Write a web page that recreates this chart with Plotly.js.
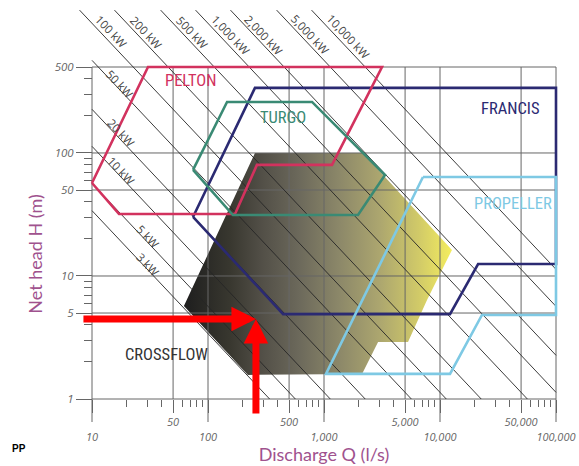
<!DOCTYPE html>
<html><head><meta charset="utf-8">
<script src="https://cdn.plot.ly/plotly-3.0.1.min.js"></script>
<style>html,body{margin:0;padding:0;background:#fff}#chart{width:579px;height:466px}</style>
</head><body><div id="chart"></div>
<script>
// ---------------- data ----------------
// turbine application envelopes: discharge Q (l/s), net head H (m)
const peltonQ = [10, 30.4, 3162, 1172, 264, 171, 17.1, 10];
const peltonH = [57, 500, 500, 80, 80, 31.9, 32, 57];
const turgoQ = [74.3, 146, 789, 3357, 1964, 164, 74.3];
const turgoH = [72.8, 260, 260, 66.2, 31.3, 31.3, 72.8];
const francisQ = [74.3, 254, 100000, 100000, 21300, 12200, 444, 74.3];
const francisH = [30.2, 338, 338, 12.5, 12.5, 4.9, 4.9, 30.2];
const propellerQ = [7130, 100000, 100000, 23000, 12200, 1040, 7130];
const propellerH = [63.8, 63.8, 4.82, 4.82, 1.6, 1.6, 63.8];
const crossflowQ = [254, 2168, 12680, 7730, 5300, 2925, 2128, 221, 62, 254];
const crossflowH = [100, 100, 16.3, 6.38, 2.91, 2.91, 1.6, 1.57, 5.7, 100];

// iso-power lines
const powerKW = [3, 5, 10, 20, 50, 100, 200, 500, 1000, 2000, 5000, 10000];
const powerText = ['3 kW', '5 kW', '10 kW', '20 kW', '50 kW', '100 kW', '200 kW', '500 kW',
                   '1,000 kW', '2,000 kW', '5,000 kW', '10,000 kW'];
const powerLabelQ = [30.4, 30.4, 17.8, 17.8, 17.1, 14.6, 29.2, 72.8, 155, 298, 757, 1611];
const powerLabelH = [12.5, 21.1, 72.7, 148, 364, 963, 945, 945, 911, 911, 911, 877];
const C_KW = 0.00883;        // kW per (l/s * m): rho*g*eta, eta ~ 0.9
const LINE_TOP_H = 1450;     // upper power lines run up to this head

// turbine names
const turbineNames = ['PELTON', 'TURGO', 'FRANCIS', 'PROPELLER', 'CROSSFLOW'];
const turbineLabelQ = [70, 444, 40100, 42600, 43.5];
const turbineLabelH = [385, 196, 232, 38.5, 2.28];
const turbineColors = ['#d2325e', '#3a8a74', '#2b2a72', '#7ec9e4', '#333333'];

// axes ticks / grid
const gridQ = [10, 50, 100, 500, 1000, 5000, 10000, 50000, 100000];
const gridH = [1, 5, 10, 50, 100, 500];
const xTickText = ['<br>10', '50', '<br>100', '500', '<br>1,000', '5,000', '<br>10,000', '50,000', '<br>100,000'];
const yTickText = ['1', '5', '10', '50', '100', '500'];
const minorQ = [20, 30, 40, 60, 70, 80, 90, 200, 300, 400, 600, 700, 800, 900,
                2000, 3000, 4000, 6000, 7000, 8000, 9000, 20000, 30000, 40000, 60000, 70000, 80000, 90000];
const minorH = [2, 3, 4, 6, 7, 8, 9, 20, 30, 40, 60, 70, 80, 90, 200, 300, 400];

// operating point marked by the red arrows
const targetQ = 259, targetH = 4.47;

// ---------------- geometry ----------------
const W = 579, HT = 466;
const M = {l: 60, r: 20, t: 5, b: 20};
const plotW = W - M.l - M.r, plotH = HT - M.t - M.b;
const FR = {left: 92, right: 556, top: 67, bottom: 399};   // frame of the main axes (px)
const fx = px => (px - M.l) / plotW;
const fy = py => (HT - M.b - py) / plotH;
const decX = (FR.right - FR.left) / 4;
const decY = (FR.bottom - FR.top) / Math.log10(500);
const yTitleBottom = 441;

// ---------------- traces ----------------
const traces = [];
traces.push({x: [10], y: [1], mode: 'markers', marker: {opacity: 0}, hoverinfo: 'skip', showlegend: false});

const D = {xaxis: 'x2', yaxis: 'y2', hoverinfo: 'skip', showlegend: false};

// crossflow area with horizontal dark-to-yellow gradient
traces.push(Object.assign({}, D, {
  x: crossflowQ, y: crossflowH, mode: 'none', fill: 'toself',
  fillgradient: {type: 'horizontal', colorscale: [
    [0, '#1e1e1e'], [0.17, '#38372f'], [0.29, '#524f47'], [0.43, '#6c695b'], [0.58, '#8c8869'],
    [0.73, '#aca66f'], [0.88, '#d2cb68'], [1, '#f4ed5e']]}
}));

// grid
const gx = [], gy = [];
gridQ.forEach(q => {
  const decade = Math.abs(Math.log10(q) - Math.round(Math.log10(q))) < 1e-9;
  gx.push(q, q, null); gy.push(decade ? 0.65 : 1, 500, null);
});
gridH.forEach(h => { gx.push(10, 100000, null); gy.push(h, h, null); });
traces.push(Object.assign({}, D, {x: gx, y: gy, mode: 'lines', line: {color: '#666666', width: 1}}));

// iso-power lines
const lx = [], ly = [];
powerKW.forEach(p => {
  let q0, h0;
  if (p >= 100) { h0 = LINE_TOP_H; q0 = p / (C_KW * h0); }
  else { q0 = 10; h0 = p / (C_KW * q0); }
  let q1 = p / C_KW, h1 = 1;
  if (q1 > 100000) { q1 = 100000; h1 = p / (C_KW * q1); }
  lx.push(q0, q1, null); ly.push(h0, h1, null);
});
traces.push(Object.assign({}, D, {x: lx, y: ly, mode: 'lines', line: {color: '#262626', width: 0.9}}));

// outlines
[[francisQ, francisH, turbineColors[2]],
 [peltonQ, peltonH, turbineColors[0]],
 [turgoQ, turgoH, turbineColors[1]],
 [propellerQ, propellerH, turbineColors[3]]].forEach(([q, h, c]) => {
  traces.push(Object.assign({}, D, {x: q, y: h, mode: 'lines', line: {color: c, width: 2.6}}));
});

// ---------------- annotations ----------------
const ann = [];
const angle = Math.atan2(decY, decX) * 180 / Math.PI;
powerKW.forEach((p, i) => ann.push({
  xref: 'x2', yref: 'y2', x: Math.log10(powerLabelQ[i]), y: Math.log10(powerLabelH[i]),
  text: powerText[i], showarrow: false, textangle: angle,
  font: {family: 'Open Sans, sans-serif', size: 11.5, color: '#444'}
}));
turbineNames.forEach((n, i) => ann.push({
  xref: 'x2', yref: 'y2', x: Math.log10(turbineLabelQ[i]), y: Math.log10(turbineLabelH[i]),
  text: n, showarrow: false,
  font: {family: 'Liberation Sans Narrow, Roboto Condensed, Roboto, sans-serif', size: 16.5, color: turbineColors[i]}
}));
ann.push({xref: 'x2', yref: 'y2', x: Math.log10(targetQ), y: Math.log10(targetH), text: '',
  showarrow: true, arrowhead: 2, arrowsize: 0.7, arrowwidth: 7, arrowcolor: '#ff0000',
  axref: 'pixel', ayref: 'pixel', ax: -174, ay: 0, standoff: 0});
ann.push({xref: 'x2', yref: 'y2', x: Math.log10(targetQ), y: Math.log10(targetH), text: '',
  showarrow: true, arrowhead: 2, arrowsize: 0.7, arrowwidth: 7, arrowcolor: '#ff0000',
  axref: 'pixel', ayref: 'pixel', ax: 0, ay: 96, standoff: 0});
ann.push({xref: 'paper', yref: 'paper', x: fx(10), y: fy(456), xanchor: 'left', text: '<b>PP</b>',
  showarrow: false, font: {family: 'Liberation Sans, Arial, sans-serif', size: 10, color: '#000'}});

const tickFont = {family: 'Open Sans, sans-serif', size: 11, color: '#666', style: 'italic'};
const titleFont = {family: 'Lato, sans-serif', size: 18, color: '#a0528e'};

const layout = {
  width: W, height: HT, margin: M,
  paper_bgcolor: '#fff', plot_bgcolor: 'rgba(0,0,0,0)', showlegend: false,
  xaxis: {
    type: 'log', domain: [fx(FR.left), fx(FR.right)], range: [1, 5],
    anchor: 'free', position: fy(FR.bottom),
    showgrid: false, zeroline: false, showline: false,
    tickmode: 'array', tickvals: gridQ, ticktext: xTickText, tickangle: 0,
    ticks: 'outside', ticklen: 13, tickcolor: '#666', tickwidth: 1, tickfont: tickFont,
    minor: {tickmode: 'array', tickvals: minorQ, ticks: 'outside', ticklen: 7, tickcolor: '#666', showgrid: false},
    title: {text: 'Discharge Q (l/s)', font: titleFont, standoff: 3}
  },
  yaxis: {
    type: 'log', domain: [fy(yTitleBottom), fy(FR.top)],
    range: [-(yTitleBottom - FR.bottom) / decY, Math.log10(500)],
    anchor: 'free', position: fx(FR.left),
    showgrid: false, zeroline: false, showline: false,
    tickmode: 'array', tickvals: gridH, ticktext: yTickText,
    ticks: 'outside', ticklen: 16, tickcolor: '#666', tickwidth: 1,
    tickfont: Object.assign({}, tickFont, {size: 11.5}),
    minor: {tickmode: 'array', tickvals: minorH, ticks: 'outside', ticklen: 8, tickcolor: '#666', showgrid: false},
    title: {text: 'Net head H (m)', font: titleFont, standoff: 6}
  },
  xaxis2: {
    type: 'log', domain: [0, 1], anchor: 'y2', visible: false,
    range: [1 - (FR.left - M.l) / decX, 5 + (W - M.r - FR.right) / decX]
  },
  yaxis2: {
    type: 'log', domain: [0, 1], anchor: 'x2', visible: false,
    range: [-(HT - M.b - FR.bottom) / decY, Math.log10(500) + (FR.top - M.t) / decY]
  },
  annotations: ann
};

Plotly.newPlot('chart', traces, layout, {staticPlot: true, displayModeBar: false});
</script>
</body></html>
